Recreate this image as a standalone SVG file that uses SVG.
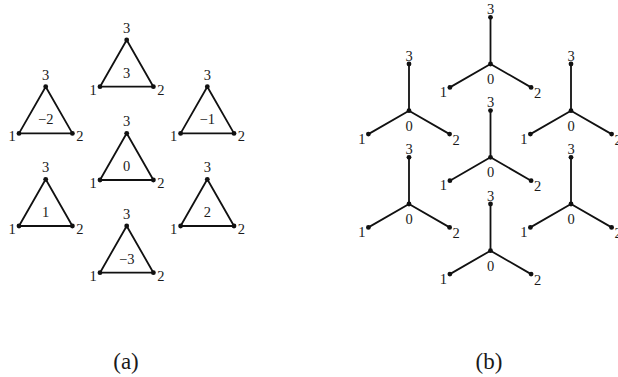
<svg xmlns="http://www.w3.org/2000/svg" width="618" height="377" viewBox="0 0 618 377" font-family="'Liberation Serif','DejaVu Serif',serif">
<style>
.e{stroke:#111;stroke-width:1.8;fill:none;stroke-linecap:round;stroke-linejoin:round}
.d{fill:#111}
text{font-family:"Liberation Serif","DejaVu Serif",serif;font-size:14.5px;fill:#1a1a1a}
.m{text-anchor:middle}
.r{text-anchor:end}
.cap{font-size:23px}
</style>
<defs>
<g id="tri">
<path class="e" d="M0,0 L-26.7,46.7 L26.7,46.7 Z"/>
<circle class="d" cx="0" cy="0" r="2.4"/>
<circle class="d" cx="-26.7" cy="46.7" r="2.4"/>
<circle class="d" cx="26.7" cy="46.7" r="2.4"/>
<text class="m" x="0" y="-7">3</text>
<text class="r" x="-30" y="54.5">1</text>
<text x="30.5" y="54.5">2</text>
</g>
<g id="star">
<path class="e" d="M0,0 L0,-46.7 M0,0 L-40.6,23.4 M0,0 L40.6,23.4"/>
<circle class="d" cx="0" cy="0" r="2.4"/>
<circle class="d" cx="0" cy="-46.7" r="2.4"/>
<circle class="d" cx="-40.6" cy="23.4" r="2.4"/>
<circle class="d" cx="40.6" cy="23.4" r="2.4"/>
<text class="m" x="0" y="-50">3</text>
<text class="m" x="0" y="20">0</text>
<text class="r" x="-43.5" y="33">1</text>
<text x="43.5" y="34">2</text>
</g>
</defs>
<g id="connectors"></g>
<g id="a-top" transform="translate(126.7,40)"><use href="#tri"/><text class="m" x="0" y="37.5">3</text></g>
<g id="a-left" transform="translate(45.7,86.7)"><use href="#tri"/><text class="m" x="0" y="37.5">−2</text></g>
<g id="a-right" transform="translate(207.3,86.7)"><use href="#tri"/><text class="m" x="0" y="37.5">−1</text></g>
<g id="a-center" transform="translate(126.7,133.3)"><use href="#tri"/><text class="m" x="0" y="37.5">0</text></g>
<g id="a-lowleft" transform="translate(45.7,179.3)"><use href="#tri"/><text class="m" x="0" y="37.5">1</text></g>
<g id="a-lowright" transform="translate(207.3,179.3)"><use href="#tri"/><text class="m" x="0" y="37.5">2</text></g>
<g id="a-bottom" transform="translate(126.7,226)"><use href="#tri"/><text class="m" x="0" y="37.5">−3</text></g>
<g id="b-top" transform="translate(490.5,64)"><use href="#star"/></g>
<g id="b-left" transform="translate(409,110.7)"><use href="#star"/></g>
<g id="b-right" transform="translate(571,110.7)"><use href="#star"/></g>
<g id="b-center" transform="translate(490.5,157.3)"><use href="#star"/></g>
<g id="b-lowleft" transform="translate(409,204)"><use href="#star"/></g>
<g id="b-lowright" transform="translate(571,204)"><use href="#star"/></g>
<g id="b-bottom" transform="translate(490.5,250.7)"><use href="#star"/></g>
<text class="m cap" x="126" y="369">(a)</text>
<text class="m cap" x="489" y="369">(b)</text>
</svg>
